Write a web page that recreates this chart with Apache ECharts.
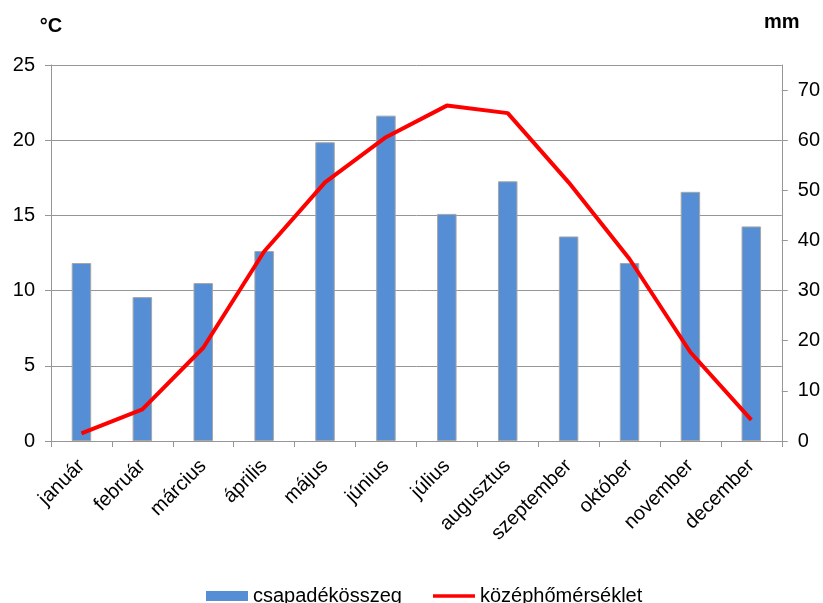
<!DOCTYPE html>
<html>
<head>
<meta charset="utf-8">
<script src="https://cdn.jsdelivr.net/npm/echarts@6/dist/echarts.min.js"></script>
<style>
  html, body { margin: 0; padding: 0; background: #fff; }
  #chart { width: 823px; height: 603px; }
</style>
</head>
<body>
<div id="chart"></div>
<script>
// Monthly climate data: precipitation (mm) and mean temperature (°C)
const months = ['január', 'február', 'március', 'április', 'május', 'június',
                'július', 'augusztus', 'szeptember', 'október', 'november', 'december'];
const precipitation = [35.5, 28.7, 31.5, 37.9, 59.6, 64.9, 45.3, 51.8, 40.8, 35.5, 49.7, 42.8];
const temperature = [0.5, 2.1, 6.2, 12.6, 17.2, 20.2, 22.3, 21.8, 17.2, 12.1, 5.9, 1.4];
const tempTicks = [0, 5, 10, 15, 20, 25];
const precipTicks = [0, 10, 20, 30, 40, 50, 60, 70];

const font = '"Liberation Sans", Arial, sans-serif';
const gray = '#969696';

const chart = echarts.init(document.getElementById('chart'), null, { renderer: 'canvas' });
chart.setOption({
  animation: false,
  backgroundColor: '#ffffff',
  textStyle: { fontFamily: font },
  grid: { left: 51, right: 41, top: 65, bottom: 162, containLabel: false },
  legend: {
    left: 201, top: 581,
    itemWidth: 42, itemHeight: 10, itemGap: 31,
    textStyle: { fontFamily: font, fontSize: 20, color: '#000' },
    data: [
      { name: 'csapadékösszeg', icon: 'rect', itemStyle: { borderWidth: 0 } },
      // a plain stroke for the temperature line, no marker
      { name: 'középhőmérséklet', icon: 'path://M0,0 L42,0 L42,3.5 L0,3.5 Z' }
    ]
  },
  xAxis: {
    type: 'category',
    data: months,
    boundaryGap: true,
    axisLine: { lineStyle: { color: gray, width: 1 } },
    axisTick: { show: true, length: 6, lineStyle: { color: gray } },
    axisLabel: { rotate: 45, margin: 22, fontSize: 20, color: '#000', fontFamily: font, interval: 0 }
  },
  yAxis: [
    {
      type: 'value', min: 0, max: 25, interval: 5,
      name: '°C', nameLocation: 'end', nameGap: 29,
      nameTextStyle: { fontFamily: font, fontSize: 20, fontWeight: 'bold', color: '#000', align: 'center' },
      axisLine: { show: true, lineStyle: { color: gray } },
      axisTick: { show: true, length: 6, lineStyle: { color: gray } },
      axisLabel: { margin: 16, fontSize: 20, color: '#000', fontFamily: font, customValues: tempTicks },
      splitLine: { show: true, lineStyle: { color: gray, width: 1 } }
    },
    {
      type: 'value', min: 0, max: 75, interval: 10,
      name: 'mm', nameLocation: 'end', nameGap: 33,
      nameTextStyle: { fontFamily: font, fontSize: 20, fontWeight: 'bold', color: '#000', align: 'center' },
      axisLine: { show: true, lineStyle: { color: gray } },
      axisTick: { show: true, length: 6, lineStyle: { color: gray }, customValues: precipTicks },
      axisLabel: { margin: 16, fontSize: 20, color: '#000', fontFamily: font, customValues: precipTicks },
      splitLine: { show: false }
    }
  ],
  series: [
    {
      name: 'csapadékösszeg',
      type: 'bar',
      yAxisIndex: 1,
      data: precipitation,
      barWidth: '32%',
      itemStyle: { color: '#558ed5', borderColor: '#a6a6a6', borderWidth: 1 }
    },
    {
      name: 'középhőmérséklet',
      type: 'line',
      yAxisIndex: 0,
      data: temperature,
      showSymbol: false,
      symbol: 'none',
      z: 5,
      lineStyle: { color: '#ff0000', width: 4 },
      itemStyle: { color: '#ff0000' }
    }
  ]
});
</script>
</body>
</html>
